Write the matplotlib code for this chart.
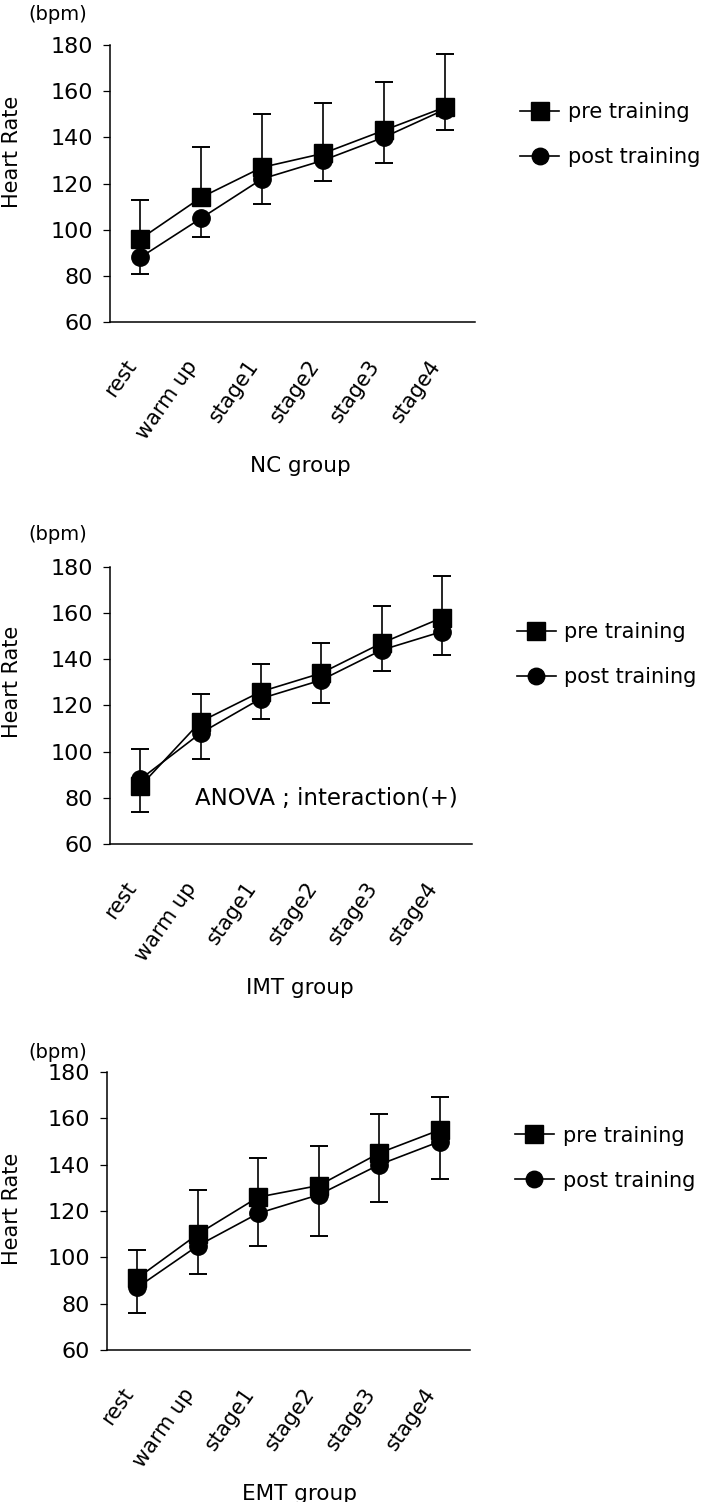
import numpy as np
import matplotlib
matplotlib.use("Agg")
import matplotlib.pyplot as plt
import matplotlib.transforms as mtransforms

plt.rcParams['font.family'] = ['DejaVu Sans']

categories = ["rest", "warm up", "stage1", "stage2", "stage3", "stage4"]

# NC group
nc_pre = [96, 114, 127, 133, 143, 153]
nc_pre_sd = [17, 22, 23, 22, 21, 23]
nc_post = [88, 105, 122, 130, 140, 152]
nc_post_sd = [7, 8, 11, 9, 11, 9]

# IMT group
imt_pre = [85, 113, 126, 134, 147, 158]
imt_pre_sd = [16, 12, 12, 13, 16, 18]
imt_post = [88, 108, 123, 131, 144, 152]
imt_post_sd = [14, 11, 9, 10, 9, 10]

# EMT group
emt_pre = [91, 110, 126, 131, 145, 155]
emt_pre_sd = [12, 19, 17, 17, 17, 14]
emt_post = [87, 105, 119, 127, 140, 150]
emt_post_sd = [11, 12, 14, 18, 16, 16]

group_names = ["NC group", "IMT group", "EMT group"]
yticks = [60, 80, 100, 120, 140, 160, 180]

W, H = 701, 1502
fig = plt.figure(figsize=(W / 100, H / 100), dpi=100)

# axes boxes in pixels: left, right, top, bottom
boxes = [(110, 475, 45, 322), (110, 472, 567, 844), (107, 470, 1072, 1350)]
heart_y = [152, 682, 1209]
bpm_y = [15, 535, 1053]
legend_y = [0.677, 0.683, 0.69]

data = [
    (nc_pre, nc_pre_sd, nc_post, nc_post_sd),
    (imt_pre, imt_pre_sd, imt_post, imt_post_sd),
    (emt_pre, emt_pre_sd, emt_post, emt_post_sd),
]

x = np.arange(len(categories))

for i, ((pre, pre_sd, post, post_sd), (l, r, t, b)) in enumerate(zip(data, boxes)):
    ax = fig.add_axes([l / W, 1 - b / H, (r - l) / W, (b - t) / H])
    pre = np.array(pre, float)
    post = np.array(post, float)
    pre_sd = np.array(pre_sd, float)
    post_sd = np.array(post_sd, float)

    # error bars: upward for pre, downward for post
    eb1 = ax.errorbar(x, pre, yerr=[np.zeros_like(pre_sd), pre_sd], fmt='none',
                      ecolor='black', elinewidth=1.2, capsize=6.5, capthick=1.4, zorder=1)
    for cl in eb1[1]:
        if np.allclose(cl.get_ydata(), pre):
            cl.set_visible(False)
    eb2 = ax.errorbar(x, post, yerr=[post_sd, np.zeros_like(post_sd)], fmt='none',
                      ecolor='black', elinewidth=1.2, capsize=6.5, capthick=1.4, zorder=1)
    for cl in eb2[1]:
        if np.allclose(cl.get_ydata(), post):
            cl.set_visible(False)

    lp, = ax.plot(x, pre, color='black', lw=1.2, marker='s', markersize=13,
                  markerfacecolor='black', markeredgecolor='black', zorder=3,
                  label='pre training')
    lq, = ax.plot(x, post, color='black', lw=1.2, marker='o', markersize=12.5,
                  markerfacecolor='black', markeredgecolor='black', zorder=3,
                  label='post training')

    ax.set_xlim(-0.5, 5.5)
    ax.set_ylim(60, 180)
    ax.set_yticks(yticks)
    ax.tick_params(axis='y', direction='out', length=5, width=0.9, pad=7, labelsize=16)
    ax.set_xticks(x)
    ax.set_xticklabels(categories, rotation=55, ha='right', va='center',
                       rotation_mode='anchor', fontsize=15)
    ax.tick_params(axis='x', length=0, pad=29)
    offset = mtransforms.ScaledTranslation(-8 / 100, 0, fig.dpi_scale_trans)
    for lab in ax.get_xticklabels():
        lab.set_transform(lab.get_transform() + offset)
    for s in ['top', 'right']:
        ax.spines[s].set_visible(False)
    for s in ['left', 'bottom']:
        ax.spines[s].set_linewidth(1.1)
        ax.spines[s].set_color('black')

    ax.legend(handles=[lp, lq], loc='center left', bbox_to_anchor=(1.123, legend_y[i]),
              frameon=False, borderpad=0, borderaxespad=0, handlelength=1.9,
              handletextpad=0.4, labelspacing=1.2, fontsize=15, numpoints=1,
              markerscale=0.95)

    fig.text(12 / W, 1 - heart_y[i] / H, "Heart Rate", rotation=90, ha='center',
             va='center', fontsize=15)
    fig.text(58 / W, 1 - bpm_y[i] / H, "(bpm)", ha='center', va='center', fontsize=14)
    fig.text(300 / W, 1 - (b + 144) / H, group_names[i], ha='center', va='center',
             fontsize=15.5)

    if i == 1:
        ax.text(0.235, 0.166, "ANOVA ; interaction(+)", transform=ax.transAxes,
                ha='left', va='center', fontsize=16.5)

fig.savefig("out.png", dpi=100)
